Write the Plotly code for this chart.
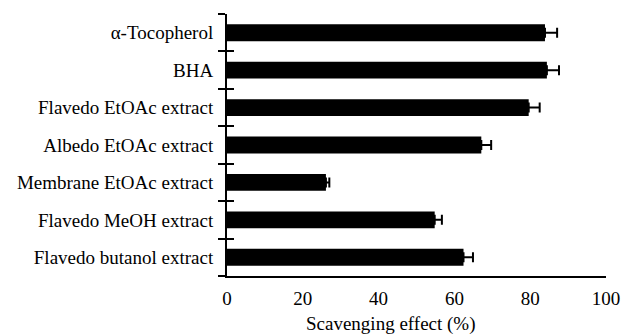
import plotly.graph_objects as go

categories = ["α-Tocopherol", "BHA", "Flavedo EtOAc extract", "Albedo EtOAc extract",
              "Membrane EtOAc extract", "Flavedo MeOH extract", "Flavedo butanol extract"]
values = [83.9, 84.4, 79.6, 67.1, 26.1, 54.8, 62.4]
errors = [3.2, 3.2, 2.9, 2.6, 0.9, 1.9, 2.5]
x_ticks = [0, 20, 40, 60, 80, 100]
x_title = "Scavenging effect (%)"
boundaries = [i - 0.5 for i in range(len(categories) + 1)]

font = "Liberation Serif, serif"

fig = go.Figure()
fig.add_trace(go.Bar(
    y=categories, x=values, orientation="h",
    marker=dict(color="black", line=dict(width=0)),
    error_x=dict(type="data", array=errors, symmetric=False,
                 arrayminus=[0] * len(errors),
                 color="black", thickness=2, width=5),
    showlegend=False,
))
fig.add_trace(go.Scatter(x=[None], y=[None], yaxis="y2", showlegend=False, hoverinfo="skip"))

fig.update_layout(
    width=621, height=336,
    margin=dict(l=227, r=15, t=14, b=60),
    paper_bgcolor="white", plot_bgcolor="white",
    bargap=0.55,
    font=dict(family=font, size=19, color="black"),
    xaxis=dict(range=[0, 100], tickvals=x_ticks, showgrid=False, zeroline=False,
               showline=True, linecolor="black", linewidth=2, ticks="",
               tickfont=dict(family=font, size=19), automargin=False,
               ticklabelstandoff=4),
    yaxis=dict(categoryorder="array", categoryarray=categories[::-1],
               range=[-0.5, len(categories) - 0.5], automargin=False,
               showgrid=False, zeroline=False,
               showline=True, linecolor="black", linewidth=2,
               ticks="outside", tickson="boundaries", ticklen=7, tickwidth=2,
               tickcolor="black", tickfont=dict(family=font, size=19), ticklabelstandoff=8),
    yaxis2=dict(overlaying="y", range=[-0.5, len(categories) - 0.5],
                tickvals=boundaries, showticklabels=False, ticks="inside",
                ticklen=7, tickwidth=2, tickcolor="black", automargin=False,
                showgrid=False, zeroline=False, showline=False),
    annotations=[dict(text=x_title, xref="paper", yref="paper", x=0.434, y=0,
                      xanchor="center", yanchor="middle", yshift=-48,
                      showarrow=False, font=dict(family=font, size=19, color="black"))],
)

fig.write_html("out.html", config={"displayModeBar": False},
               post_script="document.body.style.margin='0';")
